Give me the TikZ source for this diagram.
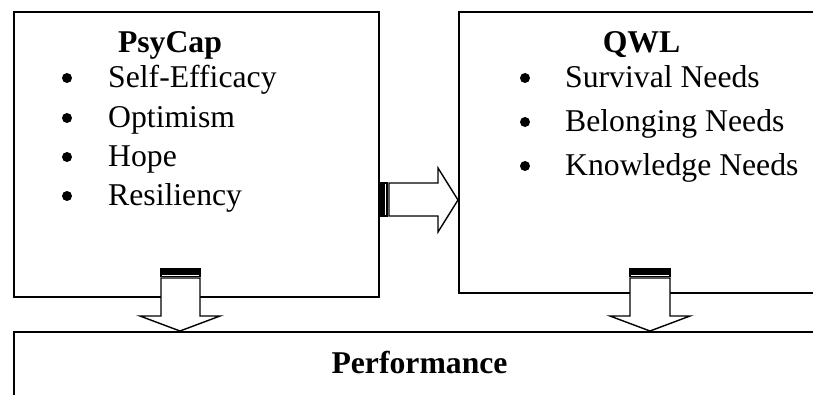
\documentclass[tikz,border=0pt]{standalone}
\usepackage{fontspec}
\setmainfont{Liberation Serif}
\begin{document}
\begin{tikzpicture}[x=1pt,y=-1pt,
  boxline/.style={draw=black,line width=1.6pt,fill=white},
  arrowline/.style={draw=black,line width=1.4pt,fill=white,line join=miter},
  band/.style={draw=black,line width=1.4pt,fill=black},
  title/.style={font=\fontsize{31.7}{38}\selectfont\bfseries,anchor=base,inner sep=0pt},
  item/.style={font=\fontsize{31.7}{38}\selectfont,anchor=base west,inner sep=0pt},
  bul/.style={circle,fill=black,inner sep=0pt,minimum size=10pt}]
\useasboundingbox (0,0) rectangle (813,394);
\clip (0,0) rectangle (813,394);
% boxes
\node[boxline,minimum width=365pt,minimum height=285pt,inner sep=0pt,anchor=north west] (psy) at (13,11) {};
\node[boxline,minimum width=400pt,minimum height=281pt,inner sep=0pt,anchor=north west] (qwl) at (458,11) {};
\node[boxline,minimum width=860pt,minimum height=120pt,inner sep=0pt,anchor=north west] (perf) at (13,331) {};
% texts left
\node[title] (tpsy) at (170,52) {PsyCap};
\node[bul] (b1) at (67,78) {};
\node[item] (i1) at (108,87) {Self-Efficacy};
\node[bul] (b2) at (67,118) {};
\node[item] (i2) at (108,127) {Optimism};
\node[bul] (b3) at (67,157) {};
\node[item] (i3) at (108,166) {Hope};
\node[bul] (b4) at (67,196) {};
\node[item] (i4) at (108,205) {Resiliency};
% texts right
\node[title] (tqwl) at (641.5,52) {QWL};
\node[bul] (c1) at (525,78) {};
\node[item] (j1) at (565,87) {Survival Needs};
\node[bul] (c2) at (525,122) {};
\node[item] (j2) at (565,131) {Belonging Needs};
\node[bul] (c3) at (525,166) {};
\node[item] (j3) at (565,175) {Knowledge Needs};
% bottom
\node[title] (tperf) at (419.5,373) {Performance};
% right striped arrow psy -> qwl
\coordinate (ra) at (psy.east |- 0,183);
\draw[arrowline] (389,183) -- (438,183) -- (438,168) -- (qwl.west |- 0,200) -- (438,232) -- (438,216) -- (389,216) -- cycle;
\draw[arrowline] (384,183) rectangle (387,216);
\draw[band] (ra) rectangle (382.5,216);
% left striped down arrow psy -> perf
\draw[arrowline] (161,278) -- (200,278) -- (200,316) -- (220,316) -- (180,331) -- (140,316) -- (161,316) -- cycle;
\draw[arrowline] (161,274) rectangle (200,276.5);
\draw[band] (161,269) rectangle (200,272.3);
% right striped down arrow qwl -> perf
\draw[arrowline] (630,278) -- (670,278) -- (670,316) -- (690,316) -- (650,331) -- (610,316) -- (630,316) -- cycle;
\draw[arrowline] (630,274) rectangle (670,276.5);
\draw[band] (630,269) rectangle (670,272.3);
\end{tikzpicture}
\end{document}
